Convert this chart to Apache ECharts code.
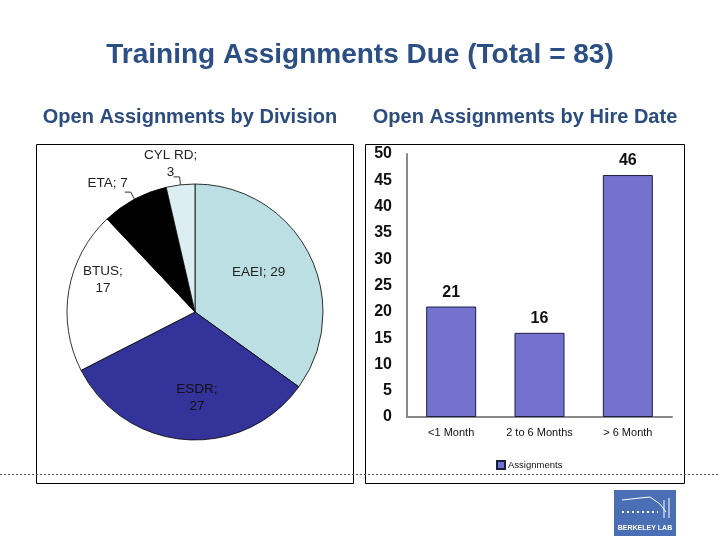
<!DOCTYPE html>
<html>
<head>
<meta charset="utf-8">
<script src="https://cdn.jsdelivr.net/npm/echarts@6/dist/echarts.min.js"></script>
<style>html,body{margin:0;padding:0;background:#fff;}#c{width:720px;height:540px;}</style>
</head>
<body>
<div id="c"></div>
<script>
// ---- data ----
const divisionNames = ['EAEI', 'ESDR', 'BTUS', 'ETA', 'CYL RD'];
const divisionValues = [29, 27, 17, 7, 3];
const hireCategories = ['<1 Month', '2 to 6 Months', '> 6 Month'];
const hireValues = [21, 16, 46];
const yTicks = { min: 0, max: 50, interval: 5 };

// ---- styles ----
const FONT = 'Liberation Sans, Arial, sans-serif';
const sliceColors = ['#BBDFE3', '#333399', '#FFFFFF', '#000000', '#DDEEF2'];
const labelStyles = [
  { position: 'inside', fmt: '{b}; {c}', color: '#222' },
  { position: 'inside', fmt: '{b};\n{c}', color: '#111' },
  { position: 'inside', fmt: '{b};\n{c}', color: '#222' },
  { position: 'outside', fmt: '{b}; {c}', color: '#222' },
  { position: 'outside', fmt: '{b};\n{c}', color: '#222' }
];
const labelShift = [[4, -9], [7, 19], [-26, -21], [8, -9], [2, -13]];
const labelAlign = [null, null, null, null, 'center'];

const pieData = divisionNames.map((n, i) => ({
  name: n,
  value: divisionValues[i],
  itemStyle: { color: sliceColors[i] },
  label: { position: labelStyles[i].position, formatter: labelStyles[i].fmt, color: labelStyles[i].color },
  labelLine: { show: labelStyles[i].position === 'outside', length: 8, length2: 6, lineStyle: { color: '#000', width: 0.8 } }
}));

const chart = echarts.init(document.getElementById('c'), null, { renderer: 'canvas' });
chart.setOption({
  backgroundColor: '#fff',
  animation: false,
  title: {
    text: 'Training Assignments Due (Total = 83)',
    left: 'center',
    top: 36,
    textStyle: { fontFamily: FONT, fontSize: 28, fontWeight: 'bold', color: '#2B4E84' }
  },
  grid: { left: 407, right: 48, top: 154, bottom: 123 },
  xAxis: {
    type: 'category',
    data: hireCategories,
    axisLine: { lineStyle: { color: '#888', width: 2 } },
    axisTick: { show: false },
    axisLabel: { fontFamily: FONT, fontSize: 11, color: '#111', margin: 10 }
  },
  yAxis: {
    type: 'value',
    min: yTicks.min, max: yTicks.max, interval: yTicks.interval,
    axisLine: { show: true, lineStyle: { color: '#888', width: 2 } },
    axisTick: { show: false },
    splitLine: { show: false },
    axisLabel: { fontFamily: FONT, fontSize: 16, fontWeight: 'bold', color: '#111', margin: 15 }
  },
  legend: {
    left: 496, top: 460, padding: 0,
    icon: 'rect', itemWidth: 8, itemHeight: 8, itemGap: 4,
    textStyle: { fontFamily: FONT, fontSize: 9.5, color: '#111', padding: [0, 0, 0, -2] },
    data: ['Assignments']
  },
  series: [
    {
      type: 'pie',
      center: [195, 312],
      radius: 128,
      startAngle: 90,
      clockwise: true,
      avoidLabelOverlap: false,
      itemStyle: { borderColor: '#000', borderWidth: 0.8 },
      label: { fontFamily: FONT, fontSize: 13.5, lineHeight: 17 },
      emphasis: { disabled: true },
      labelLayout: function (p) {
        const s = labelShift[p.dataIndex];
        const o = { dx: s[0], dy: s[1] };
        if (labelAlign[p.dataIndex]) o.align = labelAlign[p.dataIndex];
        return o;
      },
      data: pieData
    },
    {
      type: 'bar',
      name: 'Assignments',
      data: hireValues,
      barWidth: 50,
      itemStyle: { color: '#7373CF', borderColor: '#1E1E40', borderWidth: 1 },
      label: { show: true, position: 'top', distance: 6, fontFamily: FONT, fontSize: 16, fontWeight: 'bold', color: '#111' }
    }
  ],
  graphic: [
    { type: 'rect', shape: { x: 36.5, y: 144.5, width: 317, height: 339 }, style: { fill: 'none', stroke: '#000', lineWidth: 1 }, z: 0 },
    { type: 'rect', shape: { x: 365.5, y: 144.5, width: 319, height: 339 }, style: { fill: 'none', stroke: '#000', lineWidth: 1 }, z: 0 },
    { type: 'line', shape: { x1: 0, y1: 474.5, x2: 720, y2: 474.5 }, style: { stroke: '#555', lineWidth: 1, lineDash: [2, 2] }, z: 10 },
    { type: 'text', x: 190, y: 117, style: { text: 'Open Assignments by Division', fontFamily: FONT, fontSize: 20, fontWeight: 'bold', fill: '#2B4C7E', align: 'center', verticalAlign: 'middle' } },
    { type: 'text', x: 525, y: 117, style: { text: 'Open Assignments by Hire Date', fontFamily: FONT, fontSize: 20, fontWeight: 'bold', fill: '#2B4C7E', align: 'center', verticalAlign: 'middle' } },
    { type: 'rect', shape: { x: 614, y: 490, width: 62, height: 46 }, style: { fill: '#4A6FB5' } },
    { type: 'polyline', shape: { points: [[622, 500], [640, 498], [650, 497], [660, 504], [666, 512]] }, style: { stroke: '#fff', lineWidth: 1, fill: 'none' } },
    { type: 'line', shape: { x1: 622, y1: 512, x2: 658, y2: 512 }, style: { stroke: '#fff', lineWidth: 2, lineDash: [2, 3] } },
    { type: 'line', shape: { x1: 664, y1: 500, x2: 664, y2: 518 }, style: { stroke: '#fff', lineWidth: 1 } },
    { type: 'line', shape: { x1: 669, y1: 498, x2: 669, y2: 518 }, style: { stroke: '#fff', lineWidth: 1 } },
    { type: 'text', x: 645, y: 528, style: { text: 'BERKELEY LAB', fontFamily: FONT, fontSize: 7, fontWeight: 'bold', fill: '#fff', align: 'center', verticalAlign: 'middle' } }
  ]
});
</script>
</body>
</html>
